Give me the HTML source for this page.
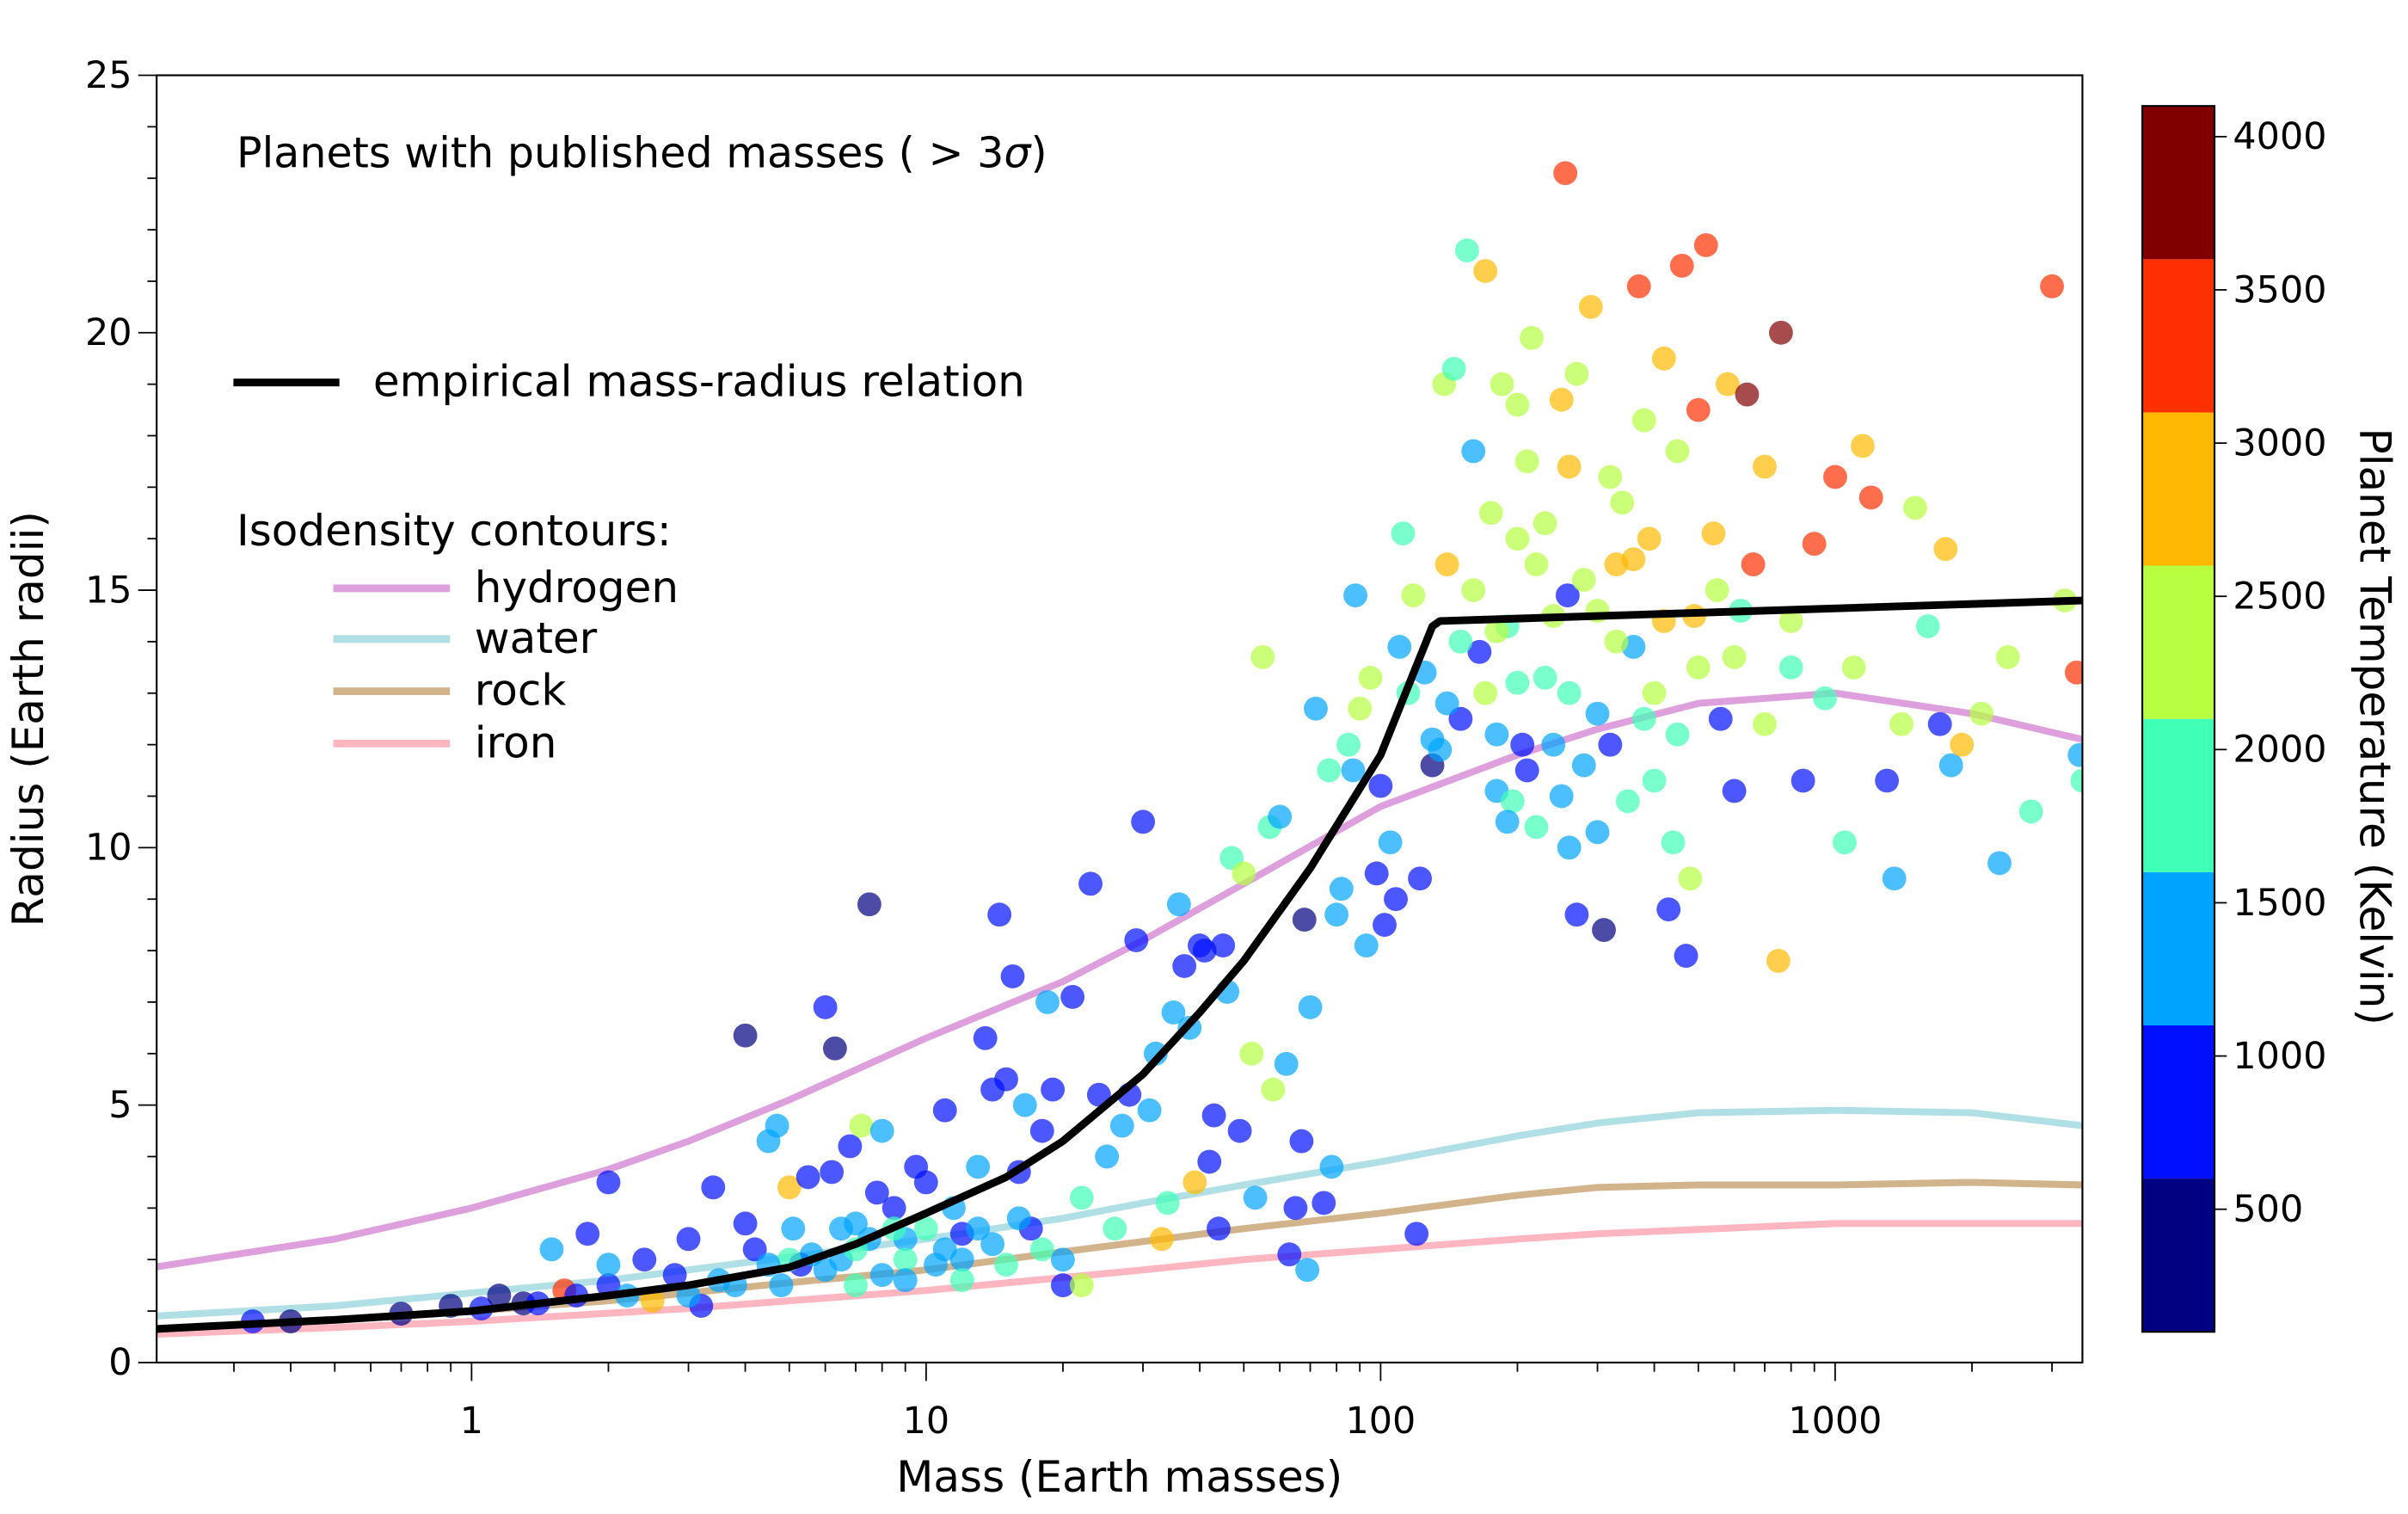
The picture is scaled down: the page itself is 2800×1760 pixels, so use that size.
<!DOCTYPE html>
<html><head><meta charset="utf-8"><style>
html,body{margin:0;padding:0;background:#fff}
svg{display:block}
text{font-family:"DejaVu Sans","Liberation Sans",sans-serif;fill:#000}
</style></head><body>
<svg id="chart" width="2800" height="1760" viewBox="0 0 1568 985.6" xmlns="http://www.w3.org/2000/svg">
<g id="plot"></g>
<g id="axes"></g>
<g id="legend">
<text x="154" y="109" font-size="27.5">Planets with published masses ( &gt; 3<tspan font-style="italic">σ</tspan>)</text>
<line x1="152" y1="249" x2="221" y2="249" stroke="#000" stroke-width="5"/>
<text x="243" y="258" font-size="28">empirical mass-radius relation</text>
<text x="154" y="355" font-size="28">Isodensity contours:</text>
<line x1="217" y1="383" x2="293" y2="383" stroke="#dda0dd" stroke-width="5"/>
<text x="309" y="392" font-size="28">hydrogen</text>
<line x1="217" y1="416" x2="293" y2="416" stroke="#b0e0e6" stroke-width="5"/>
<text x="309" y="425" font-size="28">water</text>
<line x1="217" y1="450" x2="293" y2="450" stroke="#d2b48c" stroke-width="5"/>
<text x="309" y="459" font-size="28">rock</text>
<line x1="217" y1="484" x2="293" y2="484" stroke="#ffb6c1" stroke-width="5"/>
<text x="309" y="493" font-size="28">iron</text>
</g>
<g id="cbar"></g>
</svg>
<script>
const hydrogenM=[0.2,0.5,1,2,3,5,10,20,30,50,100,200,300,500,1000,2000,3500];
const hydrogenR=[1.85,2.4,3.0,3.75,4.3,5.1,6.3,7.4,8.2,9.3,10.8,11.8,12.3,12.8,13.0,12.6,12.1];
const waterM=[0.2,0.5,1,2,3,5,10,20,30,50,100,200,300,500,1000,2000,3500];
const waterR=[0.9,1.1,1.35,1.6,1.8,2.05,2.4,2.8,3.1,3.45,3.9,4.4,4.65,4.85,4.9,4.85,4.6];
const rockM=[0.2,0.5,1,2,3,5,10,20,30,50,100,200,300,500,1000,2000,3500];
const rockR=[0.65,0.82,1.0,1.2,1.35,1.55,1.8,2.15,2.35,2.6,2.9,3.25,3.4,3.45,3.45,3.5,3.45];
const ironM=[0.2,0.5,1,3,5,10,20,30,50,100,200,300,1000,3500];
const ironR=[0.55,0.68,0.8,1.05,1.2,1.4,1.65,1.8,2.0,2.2,2.4,2.5,2.7,2.7];
const empM=[0.2,0.5,1,2,3,5,7,10,15,20,30,40,50,70,100,130,135,3500];
const empR=[0.65,0.83,1.0,1.3,1.5,1.85,2.3,2.9,3.6,4.3,5.6,6.8,7.8,9.6,11.8,14.3,14.4,14.8];
const xTicks=[1,10,100,1000];
const yTicks=[0,5,10,15,20,25];
const cbTicks=[500,1000,1500,2000,2500,3000,3500,4000];
const cbBounds=[100,600,1100,1600,2100,2600,3100,3600,4100];
const cbColors=["#000080","#0010ff","#00a4ff","#40ffb7","#b7ff40","#ffb900","#ff3000","#800000"];
const pts=[[0.33,0.8,600],[0.4,0.8,500],[0.7,0.95,500],[0.9,1.1,500],[1.05,1.05,600],[1.15,1.3,500],[1.3,1.15,500],[1.4,1.15,600],[1.6,1.4,3300],[1.7,1.3,700],[1.8,2.5,800],[1.5,2.2,1400],[2.0,3.5,900],[2.0,1.5,600],[2.0,1.9,1400],[2.2,1.3,1400],[2.4,2.0,900],[2.5,1.2,2800],[2.8,1.7,800],[3.0,2.4,800],[3.2,1.1,800],[3.4,3.4,900],[3.8,1.5,1200],[4.0,6.35,500],[4.0,2.7,800],[4.2,2.2,1000],[4.5,4.3,1400],[4.7,4.6,1300],[4.8,1.5,1300],[5.0,3.4,2800],[5.1,2.6,1200],[5.3,1.9,1000],[5.5,3.6,900],[5.6,2.1,1400],[6.0,6.9,900],[6.2,3.7,900],[6.3,6.1,500],[6.5,2.0,1100],[6.8,4.2,900],[7.0,2.7,1200],[7.2,4.6,2400],[7.5,8.9,500],[7.5,2.4,1300],[7.8,3.3,1000],[8,4.5,1300],[8.5,3.0,900],[9,2.4,1200],[9.5,3.8,1000],[10,3.5,900],[10.5,1.9,1300],[11,4.9,800],[11.5,3.0,1200],[12,2.5,1000],[13,3.8,1100],[13.5,6.3,900],[14,5.3,900],[14.5,8.7,900],[15,5.5,600],[15.5,7.5,900],[16,3.7,600],[16.5,5.0,1100],[17,2.6,800],[18,4.5,1000],[18.5,7.0,1300],[19,5.3,900],[20,1.5,900],[21,7.1,900],[22,3.2,1800],[23,9.3,600],[24,5.2,1000],[25,4.0,1300],[26,2.6,1600],[27,4.6,1200],[28,5.2,900],[29,8.2,900],[30,10.5,800],[31,4.9,1200],[32,6.0,1300],[33,2.4,2800],[34,3.1,1800],[35,6.8,1200],[36,8.9,1300],[37,7.7,900],[38,6.5,1300],[39,3.5,2900],[40,8.1,800],[41,8.0,600],[42,3.9,600],[43,4.8,900],[44,2.6,900],[45,8.1,800],[46,7.2,1300],[47,9.8,2000],[49,4.5,900],[50,9.5,2100],[52,6.0,2300],[53,3.2,1200],[55,13.7,2200],[57,10.4,1600],[58,5.3,2100],[60,10.6,1400],[62,5.8,1400],[63,2.1,600],[65,3.0,600],[67,4.3,800],[68,8.6,500],[69,1.8,1300],[70,6.9,1300],[72,12.7,1400],[75,3.1,900],[77,11.5,1700],[78,3.8,1300],[80,8.7,1400],[82,9.2,1400],[85,12.0,1900],[87,11.5,1400],[88,14.9,1300],[90,12.7,2200],[93,8.1,1200],[95,13.3,2100],[98,9.5,900],[100,11.2,700],[102,8.5,600],[105,10.1,1200],[108,9.0,900],[110,13.9,1300],[112,16.1,1800],[115,13.0,2000],[118,14.9,2200],[120,2.5,900],[122,9.4,900],[125,13.4,1400],[130,11.6,500],[135,11.9,1300],[138,19.0,2100],[140,15.5,2700],[145,19.3,1900],[150,12.5,900],[155,21.6,1900],[160,17.7,1300],[165,13.8,1000],[170,21.2,2600],[175,16.5,2200],[180,11.1,1100],[185,19.0,2400],[190,14.3,1800],[195,10.9,1800],[200,18.6,2300],[205,12.0,1000],[210,17.5,2400],[215,19.9,2500],[220,10.4,1900],[230,13.3,1900],[240,12.0,1300],[250,18.7,2700],[255,23.1,3300],[258,14.9,900],[260,17.4,2800],[270,8.7,900],[280,11.6,1300],[290,20.5,2700],[300,14.6,2400],[310,8.4,500],[320,12.0,1000],[340,16.7,2300],[360,13.9,1500],[370,20.9,3300],[380,12.5,1800],[390,16.0,2700],[400,11.3,1600],[420,19.5,2800],[430,8.8,1000],[440,10.1,1700],[460,21.3,3300],[470,7.9,600],[480,9.4,2500],[490,14.5,2700],[500,18.5,3300],[520,21.7,3400],[540,16.1,2700],[560,12.5,900],[580,19.0,2700],[600,11.1,600],[620,14.6,1900],[640,18.8,3800],[660,15.5,3200],[700,17.4,2800],[750,7.8,2800],[760,20.0,3800],[800,13.5,1800],[850,11.3,1000],[900,15.9,3200],[950,12.9,1800],[1000,17.2,3300],[1050,10.1,2000],[1100,13.5,2300],[1150,17.8,2800],[1200,16.8,3300],[1300,11.3,700],[1350,9.4,1400],[1400,12.4,2400],[1500,16.6,2300],[1600,14.3,1900],[1700,12.4,600],[1750,15.8,2800],[1800,11.6,1300],[1900,12.0,2800],[2100,12.6,2300],[2300,9.7,1400],[2400,13.7,2300],[2700,10.7,2000],[3000,20.9,3300],[3200,14.8,2400],[3400,13.4,3200],[3450,11.8,1300],[3500,11.3,2000],
[160,15.0,2100],[180,14.2,2300],[200,13.2,2000],[220,15.5,2200],[240,14.5,2100],[260,13.0,1900],[280,15.2,2300],[300,12.6,1500],[330,14.0,2100],[360,15.6,2600],[400,13.0,2200],[450,12.2,2000],[500,13.5,2400],[550,15.0,2500],[600,13.7,2200],[700,12.4,2100],[800,14.4,2300],[180,12.2,1300],[210,11.5,1000],[250,11.0,1200],[350,10.9,2000],[300,10.3,1200],[230,16.3,2400],[320,17.2,2500],[270,19.2,2500],[200,16.0,2300],[450,17.7,2400],[380,18.3,2500],[330,15.5,2900],[420,14.4,2900],[150,14.0,1800],[170,13.0,2100],[140,12.8,1300],[130,12.1,1200],[190,10.5,1100],[260,10.0,1200],
[5,2.0,1600],[6,1.8,1200],[7,2.2,2000],[8,1.7,1500],[9,2.0,1800],[10,2.6,1600],[11,2.2,1100],[12,2.0,1300],[13,2.6,1500],[14,2.3,1100],[15,1.9,1700],[16,2.8,1200],[18,2.2,1900],[20,2.0,1500],[22,1.5,2300],[6.5,2.6,1400],[8.5,2.6,1700],[3,1.3,1200],[3.5,1.6,1300],[4.5,1.9,1400],[9,1.6,1400],[7,1.5,1600],[12,1.6,2000]];

const NS="http://www.w3.org/2000/svg";
const L=102,R=1356,T=49,B=887;
const xMin=Math.log10(0.2028),xMax=Math.log10(3500);
const X=m=>L+(Math.log10(m)-xMin)/(xMax-xMin)*(R-L);
const Y=r=>B-r/25*(B-T);
const cbT=69,cbB=867,cbL=1395,cbR=1442;
const CY=t=>cbB-(t-100)/4000*(cbB-cbT);
function mk(tag,attrs,parent){const e=document.createElementNS(NS,tag);for(const k in attrs)e.setAttribute(k,attrs[k]);parent.appendChild(e);return e;}
function colorFor(t){for(let i=0;i<cbColors.length;i++){if(t<cbBounds[i+1])return cbColors[i];}return cbColors[cbColors.length-1];}
const plot=document.getElementById('plot'),axes=document.getElementById('axes'),cbar=document.getElementById('cbar');
const cp=mk('clipPath',{id:'clip'},plot);mk('rect',{x:L,y:T,width:R-L,height:B-T},cp);
const cg=mk('g',{'clip-path':'url(#clip)'},plot);
function curve(ms,rs,col,w,name){const d=ms.map((m,i)=>(i?'L':'M')+X(m).toFixed(1)+','+Y(rs[i]).toFixed(1)).join(' ');
const p=mk('path',{d:d,fill:'none',stroke:col,'stroke-width':w,'stroke-linejoin':'round'},cg);

}
curve(ironM,ironR,'#ffb6c1',4.5,'iron-contour');
curve(rockM,rockR,'#d2b48c',4.5,'rock-contour');
curve(waterM,waterR,'#b0e0e6',4.5,'water-contour');
curve(hydrogenM,hydrogenR,'#dda0dd',4.5,'hydrogen-contour');
pts.forEach(p=>{const c=mk('circle',{cx:X(p[0]).toFixed(1),cy:Y(p[1]).toFixed(1),r:7.8,fill:colorFor(p[2]),'fill-opacity':0.7},cg);

});
curve(empM,empR,'#000',5,'empirical-relation-line');
mk('rect',{x:L,y:T,width:R-L,height:B-T,fill:'none',stroke:'#000','stroke-width':1.2},axes);
for(let e=-1;e<4;e++)for(let k=1;k<10;k++){const m=k*Math.pow(10,e);if(m<0.2028||m>3500)continue;const x=X(m);const len=k===1?12:6;
mk('line',{x1:x,y1:B,x2:x,y2:B+len,stroke:'#000','stroke-width':1},axes);}
xTicks.forEach(v=>{const t=mk('text',{x:X(v),y:B+46,'font-size':24,'text-anchor':'middle'},axes);t.textContent=String(v);

});
for(let v=0;v<=25;v++){const y=Y(v);const len=v%5===0?12:6;mk('line',{x1:L-len,y1:y,x2:L,y2:y,stroke:'#000','stroke-width':1},axes);}
yTicks.forEach(v=>{const t=mk('text',{x:L-16,y:Y(v)+8,'font-size':24,'text-anchor':'end'},axes);t.textContent=String(v);

});
const xt=mk('text',{x:(L+R)/2,y:971,'font-size':28,'text-anchor':'middle'},axes);xt.textContent='Mass (Earth masses)';


const yt=mk('text',{x:0,y:0,'font-size':28,'text-anchor':'middle',transform:'translate(28,468) rotate(-90)'},axes);yt.textContent='Radius (Earth radii)';


for(let i=0;i<cbColors.length;i++){const r=mk('rect',{x:cbL,y:CY(cbBounds[i+1]),width:cbR-cbL,height:CY(cbBounds[i])-CY(cbBounds[i+1]),fill:cbColors[i]},cbar);

}
mk('rect',{x:cbL,y:cbT,width:cbR-cbL,height:cbB-cbT,fill:'none',stroke:'#000','stroke-width':1.2},cbar);
cbTicks.forEach(v=>{const y=CY(v);mk('line',{x1:cbR,y1:y,x2:cbR+8,y2:y,stroke:'#000','stroke-width':1},cbar);
const t=mk('text',{x:cbR+12,y:y+8,'font-size':24},cbar);t.textContent=String(v);

});
const ct=mk('text',{x:0,y:0,'font-size':28,'text-anchor':'middle',transform:'translate(1537,473) rotate(90)'},cbar);ct.textContent='Planet Temperature (Kelvin)';


</script>
</body></html>
